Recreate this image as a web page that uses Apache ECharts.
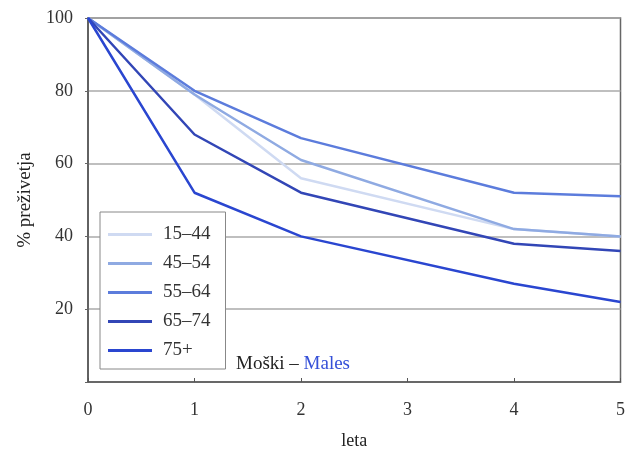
<!DOCTYPE html>
<html><head><meta charset="utf-8">
<script src="https://cdn.jsdelivr.net/npm/echarts@6/dist/echarts.min.js"></script>
<style>html,body{margin:0;padding:0;background:#fff}#c{width:628px;height:457px}</style>
</head><body><div id="c"></div>
<script>
const seriesNames = ['15–44', '45–54', '55–64', '65–74', '75+'];
const years = [0, 1, 2, 4, 5];
const v1544 = [100, 79, 56, 42, 40];
const v4554 = [100, 79, 61, 42, 40];
const v5564 = [100, 80, 67, 52, 51];
const v6574 = [100, 68, 52, 38, 36];
const v75 = [100, 52, 40, 27, 22];
const xTicks = [0, 1, 2, 3, 4, 5];
const yTicks = [20, 40, 60, 80, 100];

const values = [v1544, v4554, v5564, v6574, v75];
const colors = ['#cfdaf2', '#8faae2', '#5c7cdc', '#3246b6', '#2a46d0'];
const font = '"Liberation Serif", "DejaVu Serif", serif';

const chart = echarts.init(document.getElementById('c'));
chart.setOption({
  animation: false,
  backgroundColor: '#fff',
  textStyle: { fontFamily: font },
  grid: { left: 88, right: 6, top: 18, bottom: 75, show: true, borderColor: '#666', borderWidth: 1.5, containLabel: false },
  xAxis: {
    type: 'value', min: 0, max: 5, interval: 1,
    name: 'leta', nameLocation: 'middle', nameGap: 50,
    nameTextStyle: { fontFamily: font, fontSize: 18, color: '#222' },
    axisLine: { show: true, lineStyle: { color: '#555', width: 1.5 } },
    axisTick: { show: true, inside: true, length: 4, lineStyle: { color: '#555' } },
    axisLabel: { margin: 19, fontFamily: font, fontSize: 18, color: '#333',
      formatter: v => xTicks.includes(v) ? String(v) : '' },
    splitLine: { show: false }
  },
  yAxis: {
    type: 'value', min: 0, max: 100, interval: 20,
    name: '% preživetja', nameLocation: 'middle', nameGap: 53,
    nameTextStyle: { fontFamily: font, fontSize: 19, color: '#222' },
    axisLine: { show: true, lineStyle: { color: '#555', width: 1.5 } },
    axisTick: { show: true, length: 3, lineStyle: { color: '#666' } },
    axisLabel: { margin: 15, fontFamily: font, fontSize: 18, color: '#333',
      formatter: v => yTicks.includes(v) ? String(v) : '' },
    splitLine: { show: true, lineStyle: { color: '#aaa', width: 1.5 } }
  },
  legend: {
    orient: 'vertical', left: 100, top: 212,
    backgroundColor: '#fff', borderColor: '#888', borderWidth: 1,
    padding: [13, 15, 9, 8],
    itemWidth: 44, itemHeight: 3, itemGap: 10, icon: 'rect',
    textStyle: { fontFamily: font, fontSize: 19, color: '#333', padding: [0, 0, 0, 6] },
    data: seriesNames
  },
  graphic: [{
    type: 'text', left: 236, top: 355, z: 100,
    style: {
      rich: { a: { fontFamily: font, fontSize: 19, fill: '#222' }, b: { fontFamily: font, fontSize: 19, fill: '#3550d8' } },
      text: '{a|Moški – }{b|Males}'
    }
  }],
  series: seriesNames.map((n, i) => ({
    name: n, type: 'line', symbol: 'none', z: 2,
    lineStyle: { color: colors[i], width: 2.5 },
    itemStyle: { color: colors[i] },
    data: years.map((x, j) => [x, values[i][j]])
  }))
});
</script></body></html>
